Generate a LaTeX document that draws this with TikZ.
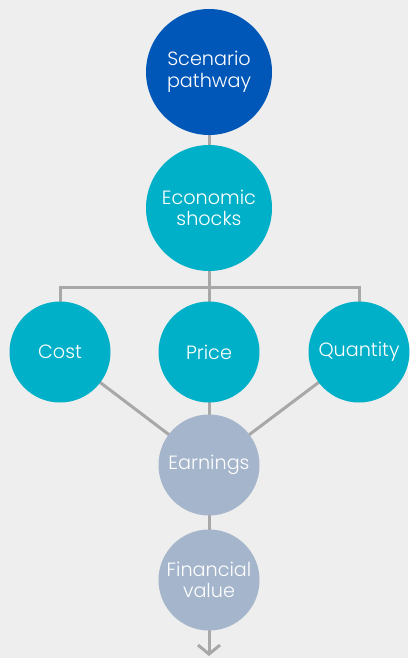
\documentclass[tikz,border=0pt]{standalone}
\usepackage{fontspec}
\setmainfont{Poppins}[UprightFont=* Light]
\usetikzlibrary{arrows.meta,positioning,backgrounds}
\definecolor{C_bg}{RGB}{237,238,237}
\definecolor{C_navy}{RGB}{0,87,184}
\definecolor{C_teal}{RGB}{0,176,200}
\definecolor{C_haze}{RGB}{164,181,204}
\definecolor{C_wire}{RGB}{168,168,168}

\begin{document}
\begin{tikzpicture}[
    x=1pt, y=-1pt,
    font=\fontsize{19.2}{21.5}\selectfont,
    bigdot/.style={circle, minimum size=126pt, inner sep=0pt, text=white, align=center},
    smalldot/.style={circle, minimum size=101pt, inner sep=0pt, text=white, align=center},
    link/.style={draw=C_wire, line width=3pt},
]
% Circles (pixel coordinates, y downwards)
\node[bigdot, fill=C_navy] (scen) at (209, 72) {Scenario\\pathway};
\node[bigdot, fill=C_teal] (econ) at (209, 208) {Economic\\shocks};

\node[smalldot, fill=C_teal] (cost) at (60, 352) {Cost};
\node[smalldot, fill=C_teal] (price) at (209, 352) {Price};
\node[smalldot, fill=C_teal] (qty) at (359, 352) {Quantity};

\node[smalldot, fill=C_haze] (earn) at (209, 465) {Earnings};
\node[smalldot, fill=C_haze] (fin) at (209, 580) {Financial\\value};

\coordinate (bus) at (209, 287);
\coordinate (out) at (209, 656);

\begin{pgfonlayer}{background}
  \fill[C_bg] (0,0) rectangle (408,658);
  \draw[link] (scen.center) -- (econ.center);
  \draw[link] (econ.center) -- (price.center);
  \draw[link] (cost.center) |- (bus) -| (qty.center);
  \draw[link] (cost.center) -- (earn.center);
  \draw[link] (qty.center) -- (earn.center);
  \draw[link] (price.center) -- (earn.center);
  \draw[link] (earn.center) -- (fin.center);
  \draw[link, -{Straight Barb[length=9pt, width=22pt]}] (fin.center) -- (out);
\end{pgfonlayer}
\useasboundingbox (0,0) rectangle (408,658);
\end{tikzpicture}
\end{document}
